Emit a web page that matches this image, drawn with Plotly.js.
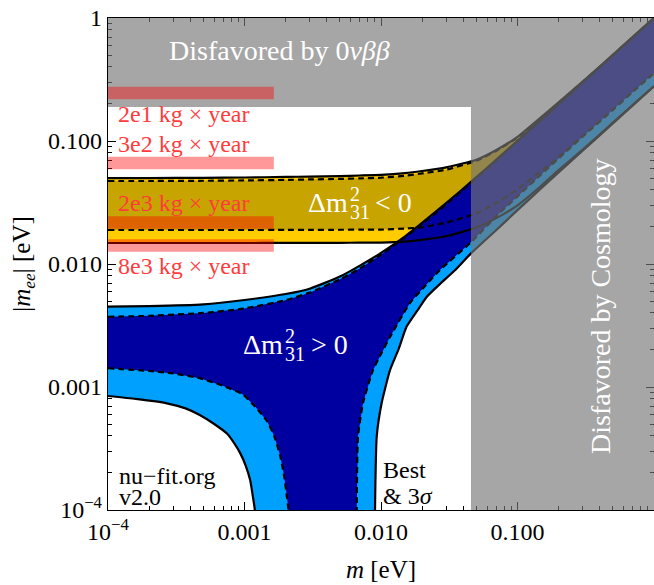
<!DOCTYPE html>
<html><head><meta charset="utf-8">
<script src="https://cdn.plot.ly/plotly-3.0.1.min.js"></script>
<style>html,body{margin:0;padding:0;background:#fff;}#chart{width:654px;height:585px;}</style>
</head><body><div id="chart"></div>
<script>
// ---------- data (lightest neutrino mass m [eV] vs |m_ee| [eV]) ----------
const mGrid = [1e-4, 2e-4, 5e-4, 1e-3, 2e-3, 3e-3, 5e-3, 7e-3, 0.01, 0.015, 0.02, 0.03, 0.05, 0.07, 0.1, 0.15, 0.2, 0.3, 0.5, 0.7, 1];

// inverted ordering (Δm²31 < 0)
const ioUpper3s = [0.0500, 0.0500, 0.0502, 0.0505, 0.0510, 0.0514, 0.0519, 0.0524, 0.0530, 0.0548, 0.0570, 0.0610, 0.0705, 0.0846, 0.108, 0.157, 0.206, 0.304, 0.502, 0.702, 1.0];
const ioUpperBf = [0.0473, 0.0473, 0.0475, 0.0478, 0.0483, 0.0487, 0.0492, 0.0497, 0.0503, 0.0522, 0.0545, 0.0585, 0.0690, 0.0832, 0.1065, 0.155, 0.204, 0.302, 0.500, 0.700, 0.998];
const ioLower3s = [0.01482, 0.01482, 0.01482, 0.01482, 0.01483, 0.01484, 0.01486, 0.0149, 0.01494, 0.0152, 0.0157, 0.0168, 0.0198, 0.0236, 0.0300, 0.0435, 0.0580, 0.0850, 0.141, 0.197, 0.280];
const ioLowerBf = [0.0189, 0.0189, 0.0189, 0.0189, 0.01892, 0.01894, 0.01898, 0.01902, 0.01905, 0.0194, 0.0199, 0.0217, 0.0258, 0.0313, 0.0405, 0.0575, 0.0740, 0.110, 0.180, 0.252, 0.357];

// normal ordering (Δm²31 > 0)
const noUpper3s = [0.00451, 0.00455, 0.0047, 0.0051, 0.0057, 0.0063, 0.0079, 0.0097, 0.0123, 0.0168, 0.0216, 0.0312, 0.0508, 0.0706, 0.1004, 0.1503, 0.2002, 0.300, 0.500, 0.700, 1.0];
const noUpperBf = [0.00372, 0.00379, 0.0040, 0.00435, 0.00508, 0.00585, 0.0075, 0.0092, 0.0119, 0.0165, 0.0211, 0.0305, 0.0500, 0.0698, 0.0997, 0.1496, 0.1996, 0.2995, 0.4995, 0.699, 0.999];

const noLower3sLeftM = [1e-4, 1.6e-4, 2.7e-4, 3.7e-4, 4.7e-4, 6e-4, 7.4e-4, 8.4e-4, 9.3e-4, 1.02e-3, 1.1e-3, 1.15e-3, 1.19e-3, 1.21e-3];
const noLower3sLeft  = [0.000845, 0.0008, 0.000737, 0.00067, 0.000592, 0.0005, 0.00042, 0.00035, 0.00029, 0.00023, 0.000175, 0.00013, 0.0001, 0.00001];
const noLower3sRightM = [8.98e-3, 9.04e-3, 9.3e-3, 0.0101, 0.01164, 0.0135, 0.0154, 0.0185, 0.0216, 0.0275, 0.0348, 0.0456, 0.07, 0.1, 0.15, 0.2, 0.3, 0.5, 0.7, 1];
const noLower3sRight  = [0.00001, 0.0001, 0.000394, 0.000737, 0.00137, 0.00205, 0.0031, 0.0042, 0.0054, 0.0070, 0.0089, 0.0122, 0.0189, 0.0274, 0.0415, 0.0554, 0.0833, 0.139, 0.1946, 0.278];

const noLowerBfLeftM = [1e-4, 2e-4, 3e-4, 4.7e-4, 7e-4, 9.75e-4, 1.2e-3, 1.46e-3, 1.65e-3, 1.82e-3, 1.95e-3, 2.05e-3, 2.1e-3, 2.13e-3];
const noLowerBfLeft  = [0.00142, 0.00135, 0.00129, 0.00118, 0.00102, 0.00087, 0.00069, 0.00053, 0.0004, 0.00028, 0.00019, 0.000125, 0.0001, 0.00001];
const noLowerBfRightM = [6.62e-3, 6.64e-3, 6.78e-3, 7.38e-3, 8.73e-3, 0.0101, 0.01164, 0.0163, 0.0212, 0.027, 0.0456, 0.07, 0.1, 0.15, 0.2, 0.3, 0.5, 0.7, 1];
const noLowerBfRight  = [0.00001, 0.0001, 0.000392, 0.000741, 0.00137, 0.0019, 0.00255, 0.00482, 0.0067, 0.00894, 0.0150, 0.0245, 0.0355, 0.0538, 0.072, 0.1085, 0.179, 0.252, 0.357];

// excluded regions
const cosmologyLimitM = 0.0456;   // lightest mass limit
const dbdLimitMee = 0.189;        // 0νββ limit on |m_ee|

// experiment sensitivities
const exposureLabels = ['2e1 kg × year', '3e2 kg × year', '2e3 kg × year', '8e3 kg × year'];
const exposureMee = [0.2455, 0.0663, 0.02175, 0.01414];
const exposureBarEndM = 0.00164;

// ticks
const majorTickVals = [1e-4, 1e-3, 1e-2, 1e-1, 1];
const xTickText = ['10<sup>−4</sup>', '0.001', '0.010', '0.100', '1'];
const yTickText = ['10<sup>−4</sup>', '0.001', '0.010', '0.100', '1'];

// ---------- build ----------
const rev = a => a.slice().reverse();
const SERIF = 'Liberation Serif';
const traces = [];

function fillTrace(xs, ys, color) {
  return {x: xs, y: ys, type: 'scatter', mode: 'lines', fill: 'toself', fillcolor: color,
          line: {width: 0, color: color}, hoverinfo: 'skip', showlegend: false};
}
function lineTrace(xs, ys, dashed) {
  return {x: xs, y: ys, type: 'scatter', mode: 'lines',
          line: {color: 'black', width: 2.2, dash: dashed ? '6px,4px' : 'solid', shape: 'spline', smoothing: 0.5},
          hoverinfo: 'skip', showlegend: false};
}

// IO fills
traces.push(fillTrace(mGrid.concat(rev(mGrid)), ioUpper3s.concat(rev(ioLower3s)), '#ffcc00'));
traces.push(fillTrace(mGrid.concat(rev(mGrid)), ioUpperBf.concat(rev(ioLowerBf)), '#c8a400'));
// NO fills
traces.push(fillTrace(mGrid.concat(rev(noLower3sRightM), rev(noLower3sLeftM)),
                      noUpper3s.concat(rev(noLower3sRight), rev(noLower3sLeft)), '#00a0ff'));
traces.push(fillTrace(mGrid.concat(rev(noLowerBfRightM), rev(noLowerBfLeftM)),
                      noUpperBf.concat(rev(noLowerBfRight), rev(noLowerBfLeft)), '#0000a0'));
// outlines
traces.push(lineTrace(mGrid, ioUpper3s, false));
traces.push(lineTrace(mGrid, ioLower3s, false));
traces.push(lineTrace(mGrid, ioUpperBf, true));
traces.push(lineTrace(mGrid, ioLowerBf, true));
traces.push(lineTrace(mGrid, noUpper3s, false));
traces.push(lineTrace(noLower3sLeftM, noLower3sLeft, false));
traces.push(lineTrace(noLower3sRightM, noLower3sRight, false));
traces.push(lineTrace(mGrid, noUpperBf, true));
traces.push(lineTrace(noLowerBfLeftM, noLowerBfLeft, true));
traces.push(lineTrace(noLowerBfRightM, noLowerBfRight, true));
// disfavored regions (single L-shaped translucent overlay)
traces.push(fillTrace([5e-5, 2, 2, cosmologyLimitM, cosmologyLimitM, 5e-5],
                      [2, 2, 5e-5, 5e-5, dbdLimitMee, dbdLimitMee], 'rgba(118,118,118,0.65)'));
// sensitivity bars
exposureMee.forEach(v => {
  traces.push({x: [1e-4, exposureBarEndM], y: [v, v], type: 'scatter', mode: 'lines',
               line: {color: 'rgba(255,0,0,0.4)', width: 12.5}, hoverinfo: 'skip', showlegend: false});
});

const minorVals = [];
for (let d = -4; d < 0; d++) for (let k = 2; k <= 9; k++) minorVals.push(k * Math.pow(10, d));

function axisBase(tickText) {
  return {
    type: 'log', range: [-4, 0], tickmode: 'array', tickvals: majorTickVals, ticktext: tickText,
    ticks: 'inside', ticklen: 8, tickwidth: 1, tickcolor: 'black',
    showline: true, linecolor: 'black', linewidth: 1.2, mirror: 'ticks',
    showgrid: false, zeroline: false, layer: 'below traces',
    minor: {ticks: 'inside', ticklen: 4, tickwidth: 1, tickcolor: 'black', tickmode: 'array', tickvals: minorVals, showgrid: false},
    tickfont: {family: SERIF, size: 24, color: 'black'}
  };
}
const xaxis = Object.assign(axisBase(xTickText), {
  title: {text: '<i>m</i> [eV]', font: {family: SERIF, size: 25, color: 'black'}, standoff: 16}
});
const yaxis = Object.assign(axisBase(yTickText), {
  title: {text: '|<i>m</i><sub><i>ee</i></sub>| [eV]', font: {family: SERIF, size: 25, color: 'black'}, standoff: 10}
});

const fx = px => (px - 108) / 546;
const fy = py => (510 - py) / 492;
function note(text, px, py, opts) {
  return Object.assign({text: text, x: fx(px), y: fy(py), xref: 'paper', yref: 'paper', showarrow: false,
                        xanchor: 'center', yanchor: 'middle',
                        font: {family: SERIF, size: 24, color: 'black'}}, opts || {});
}
const W = (s) => ({family: SERIF, size: s, color: 'white'});
const annotations = [
  note('Disfavored by 0<i>νββ</i>', 279, 50, {font: W(28)}),
  note('Disfavored by Cosmology', 600, 306, {textangle: -90, font: W(28)}),
  // Δm²31 < 0 (stacked super/subscript)
  note('Δm', 306, 203, {xanchor: 'left', font: W(28)}),
  note('2', 348, 194, {xanchor: 'left', font: W(20)}),
  note('31', 348, 212, {xanchor: 'left', font: W(20)}),
  note('< 0', 373, 203, {xanchor: 'left', font: W(28)}),
  // Δm²31 > 0
  note('Δm', 241, 345, {xanchor: 'left', font: W(28)}),
  note('2', 283, 336, {xanchor: 'left', font: W(20)}),
  note('31', 283, 354, {xanchor: 'left', font: W(20)}),
  note('> 0', 309, 345, {xanchor: 'left', font: W(28)}),
  note('nu−fit.org', 117, 476, {xanchor: 'left'}),
  note('v2.0', 117, 497, {xanchor: 'left'}),
  note('Best', 381, 470, {xanchor: 'left'}),
  note('& 3<i>σ</i>', 381, 496, {xanchor: 'left'})
];
const labelY = [114, 144, 203, 266];
exposureLabels.forEach((t, i) => {
  annotations.push(note(t, 116, labelY[i], {xanchor: 'left', font: {family: SERIF, size: 24, color: '#ff3c3c'}}));
});

const layout = {
  width: 654, height: 585,
  margin: {l: 108, r: 0, t: 18, b: 75, pad: 0},
  paper_bgcolor: 'white', plot_bgcolor: 'white',
  showlegend: false, hovermode: false,
  xaxis: xaxis, yaxis: yaxis, annotations: annotations
};
Plotly.newPlot('chart', traces, layout, {displayModeBar: false, staticPlot: true});
</script>
</body></html>
